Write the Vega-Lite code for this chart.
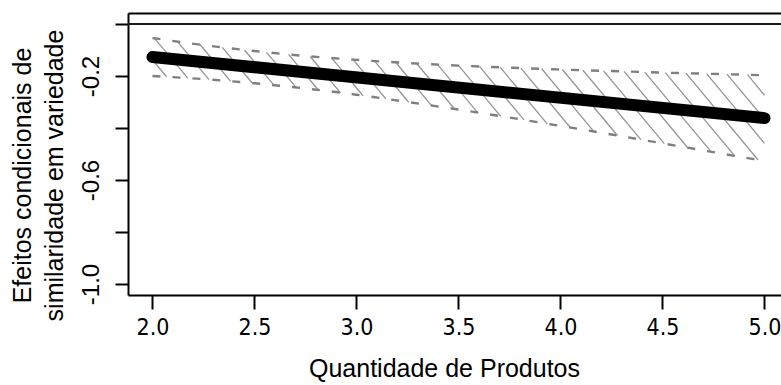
{
  "$schema": "https://vega.github.io/schema/vega-lite/v6.json",
  "width": 653,
  "height": 282,
  "autosize": {"type": "none"},
  "padding": {"left": 128, "top": 13, "right": 0, "bottom": 90},
  "background": "white",
  "config": {"view": {"stroke": null}},
  "datasets": {
    "fit": [
      {"x": 2.0, "y": -0.127},
      {"x": 5.0, "y": -0.362}
    ],
    "band": [
      {"x": 2.0, "upper": -0.054, "lower": -0.200},
      {"x": 2.25, "upper": -0.081, "lower": -0.212},
      {"x": 2.5, "upper": -0.104, "lower": -0.228},
      {"x": 2.75, "upper": -0.123, "lower": -0.248},
      {"x": 3.0, "upper": -0.138, "lower": -0.272},
      {"x": 3.25, "upper": -0.150, "lower": -0.300},
      {"x": 3.5, "upper": -0.160, "lower": -0.329},
      {"x": 3.75, "upper": -0.168, "lower": -0.360},
      {"x": 4.0, "upper": -0.175, "lower": -0.392},
      {"x": 4.25, "upper": -0.181, "lower": -0.425},
      {"x": 4.5, "upper": -0.187, "lower": -0.459},
      {"x": 4.75, "upper": -0.192, "lower": -0.493},
      {"x": 5.0, "upper": -0.197, "lower": -0.527}
    ],
    "hatch": [
      {"x": 2.000, "y": -0.138, "x2": 2.069, "y2": -0.203},
      {"x": 2.010, "y": -0.055, "x2": 2.173, "y2": -0.208},
      {"x": 2.122, "y": -0.067, "x2": 2.277, "y2": -0.214},
      {"x": 2.233, "y": -0.079, "x2": 2.383, "y2": -0.221},
      {"x": 2.342, "y": -0.090, "x2": 2.489, "y2": -0.227},
      {"x": 2.451, "y": -0.100, "x2": 2.596, "y2": -0.236},
      {"x": 2.559, "y": -0.109, "x2": 2.704, "y2": -0.244},
      {"x": 2.667, "y": -0.117, "x2": 2.813, "y2": -0.254},
      {"x": 2.773, "y": -0.125, "x2": 2.922, "y2": -0.265},
      {"x": 2.879, "y": -0.131, "x2": 3.032, "y2": -0.276},
      {"x": 2.984, "y": -0.137, "x2": 3.144, "y2": -0.288},
      {"x": 3.088, "y": -0.142, "x2": 3.256, "y2": -0.301},
      {"x": 3.192, "y": -0.147, "x2": 3.368, "y2": -0.314},
      {"x": 3.295, "y": -0.152, "x2": 3.481, "y2": -0.327},
      {"x": 3.398, "y": -0.156, "x2": 3.594, "y2": -0.341},
      {"x": 3.501, "y": -0.160, "x2": 3.707, "y2": -0.355},
      {"x": 3.603, "y": -0.163, "x2": 3.821, "y2": -0.369},
      {"x": 3.705, "y": -0.167, "x2": 3.935, "y2": -0.384},
      {"x": 3.806, "y": -0.170, "x2": 4.049, "y2": -0.399},
      {"x": 3.908, "y": -0.172, "x2": 4.164, "y2": -0.414},
      {"x": 4.009, "y": -0.175, "x2": 4.279, "y2": -0.429},
      {"x": 4.110, "y": -0.178, "x2": 4.394, "y2": -0.445},
      {"x": 4.211, "y": -0.180, "x2": 4.509, "y2": -0.460},
      {"x": 4.312, "y": -0.182, "x2": 4.624, "y2": -0.476},
      {"x": 4.413, "y": -0.185, "x2": 4.739, "y2": -0.492},
      {"x": 4.514, "y": -0.187, "x2": 4.854, "y2": -0.507},
      {"x": 4.615, "y": -0.189, "x2": 4.969, "y2": -0.523},
      {"x": 4.716, "y": -0.191, "x2": 5.000, "y2": -0.459},
      {"x": 4.816, "y": -0.193, "x2": 5.000, "y2": -0.366},
      {"x": 4.917, "y": -0.195, "x2": 5.000, "y2": -0.274}
    ]
  },
  "resolve": {"axis": {"x": "independent"}},
  "layer": [
    {
      "data": {"name": "hatch"},
      "mark": {"type": "rule", "color": "#959595", "strokeWidth": 1.3},
      "encoding": {
        "x": {"field": "x", "type": "quantitative",
              "scale": {"domain": [1.88, 5.081], "nice": false, "zero": false},
              "axis": {"orient": "top", "labels": false, "ticks": false, "grid": false, "title": null,
                       "domain": true, "domainColor": "black", "domainWidth": 2}},
        "y": {"field": "y", "type": "quantitative"},
        "x2": {"field": "x2"},
        "y2": {"field": "y2"}
      }
    },
    {
      "data": {"name": "band"},
      "mark": {"type": "line", "color": "#7f7f7f", "strokeWidth": 2.4, "strokeDash": [8, 12], "interpolate": "monotone"},
      "encoding": {
        "x": {"field": "x", "type": "quantitative", "axis": null},
        "y": {"field": "upper", "type": "quantitative"}
      }
    },
    {
      "data": {"name": "band"},
      "mark": {"type": "line", "color": "#7f7f7f", "strokeWidth": 2.4, "strokeDash": [8, 12], "interpolate": "monotone"},
      "encoding": {
        "x": {"field": "x", "type": "quantitative", "axis": null},
        "y": {"field": "lower", "type": "quantitative"}
      }
    },
    {
      "data": {"values": [{"h": 0}]},
      "mark": {"type": "rule", "color": "#1a1a1a", "strokeWidth": 2},
      "encoding": {
        "y": {"field": "h", "type": "quantitative"}
      }
    },
    {
      "data": {"name": "fit"},
      "mark": {"type": "line", "color": "black", "strokeWidth": 12, "strokeCap": "round"},
      "encoding": {
        "x": {"field": "x", "type": "quantitative",
              "axis": {"orient": "bottom", "values": [2, 2.5, 3, 3.5, 4, 4.5, 5], "format": ".1f",
                       "grid": false, "tickSize": 14, "tickWidth": 2, "tickColor": "black",
                       "domainColor": "black", "domainWidth": 2,
                       "labelFont": "Liberation Sans Narrow, Arial Narrow, DejaVu Sans Condensed, Liberation Sans, sans-serif",
                       "labelFontSize": 23, "labelColor": "black", "labelPadding": 25,
                       "labelBaseline": "alphabetic", "labelFlush": false, "labelOverlap": false,
                       "title": "Quantidade de Produtos", "titleFont": "Liberation Sans", "titleFontSize": 25,
                       "titleFontWeight": "normal", "titleColor": "black", "titleAnchor": null,
                       "titleX": 316, "titleY": 81, "titleBaseline": "alphabetic", "titleAlign": "center"}},
        "y": {"field": "y", "type": "quantitative",
              "scale": {"domain": [-1.0423, 0.0423], "nice": false, "zero": false},
              "axis": {"values": [0, -0.2, -0.4, -0.6, -0.8, -1.0], "grid": false,
                       "labelExpr": "abs(datum.value + 0.2) < 0.001 ? '-0.2' : abs(datum.value + 0.6) < 0.001 ? '-0.6' : abs(datum.value + 1) < 0.001 ? '-1.0' : ''",
                       "labelAngle": -90, "labelAlign": "center", "labelBaseline": "alphabetic",
                       "labelPadding": 17, "labelOverlap": false, "labelFlush": false,
                       "labelFont": "Liberation Sans", "labelFontSize": 24, "labelColor": "black",
                       "tickSize": 13, "tickWidth": 2, "tickColor": "black",
                       "domainColor": "black", "domainWidth": 2,
                       "title": ["Efeitos condicionais de", "similaridade em variedade"],
                       "titleFont": "Liberation Sans", "titleFontSize": 25, "titleFontWeight": "normal",
                       "titleColor": "black", "titleAngle": -90, "titleAnchor": null,
                       "titleX": -98, "titleY": 162, "titleAlign": "center", "titleBaseline": "alphabetic",
                       "titleLineHeight": 32}}
      }
    }
  ]
}
